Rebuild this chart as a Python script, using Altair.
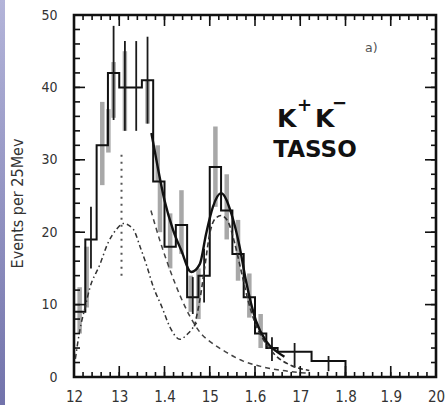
import altair as alt
import pandas as pd

# ---------------- data ----------------
# histogram (events per 25 MeV); left edges of bins, last two bins are wide
bin_left = [1.200, 1.225, 1.250, 1.275, 1.300, 1.325, 1.350, 1.375, 1.400, 1.425,
            1.450, 1.475, 1.500, 1.525, 1.550, 1.575, 1.600, 1.625, 1.650, 1.725]
bin_value = [9, 19, 32, 42, 40, 40, 41, 27, 18, 21,
             11, 14, 29, 23, 17, 11, 6, 4, 3.5, 2.2]
hist_end = 1.8

# black error bars
eb_black_x = [1.2375, 1.2875, 1.3125, 1.3375, 1.3625, 1.4625, 1.4875, 1.6375, 1.6875, 1.7625]
eb_black_lo = [15.0, 35.5, 34.0, 34.0, 35.0, 8.7, 10.3, 2.2, 1.3, 0.8]
eb_black_hi = [23.5, 48.5, 46.4, 46.4, 47.0, 13.8, 17.7, 5.5, 4.7, 2.9]

# grey (second copy) error bars
eb_grey_x = [1.2125, 1.2280, 1.2625, 1.2760, 1.2875, 1.3125, 1.3625, 1.3850, 1.3900,
             1.4125, 1.4375, 1.4580, 1.4750, 1.5125, 1.5375, 1.5625, 1.5875, 1.6125]
eb_grey_lo = [6.0, 9.6, 26.5, 31.0, 35.8, 34.0, 35.0, 27.0, 20.0,
              15.0, 17.0, 9.0, 8.0, 23.5, 19.0, 13.3, 8.2, 4.0]
eb_grey_hi = [12.4, 18.0, 38.0, 37.0, 43.5, 45.0, 41.0, 32.0, 27.0,
              22.6, 25.8, 14.0, 15.0, 34.6, 28.0, 21.7, 14.3, 8.7]

# total fit (solid)
total_x = [1.371, 1.385, 1.400, 1.419, 1.437, 1.459, 1.478, 1.492, 1.507, 1.525,
           1.550, 1.566, 1.580, 1.602, 1.624, 1.646, 1.665]
total_y = [33.7, 29.0, 24.4, 20.3, 17.5, 14.5, 15.6, 19.8, 23.5, 25.4,
           22.1, 18.0, 13.3, 7.8, 5.0, 3.6, 2.8]

# f2(1270) component (dash-dot)
f2_x = [1.203, 1.213, 1.224, 1.235, 1.257, 1.275, 1.294, 1.309, 1.331, 1.346,
        1.360, 1.375, 1.394, 1.412, 1.434, 1.452, 1.471]
f2_y = [2.5, 6.5, 9.5, 12.3, 15.5, 18.5, 20.4, 21.2, 20.4, 18.0,
        15.5, 12.5, 9.7, 6.9, 5.2, 6.0, 7.5]

# f2'(1525) component (dashed)
f2p_x = [1.466, 1.478, 1.489, 1.500, 1.511, 1.525, 1.540, 1.555, 1.570, 1.585,
         1.600, 1.620, 1.645, 1.680, 1.720]
f2p_y = [7.0, 10.6, 15.2, 19.8, 21.8, 22.3, 21.5, 18.5, 14.5, 10.5,
         7.5, 5.0, 3.0, 1.6, 0.9]

# falling background / tail (dashed)
bg_x = [1.370, 1.390, 1.412, 1.434, 1.456, 1.478, 1.507, 1.537, 1.574, 1.610, 1.660, 1.720]
bg_y = [23.0, 18.8, 14.8, 11.3, 8.4, 6.2, 4.6, 3.4, 2.2, 1.5, 0.9, 0.5]

# dotted marker line
marker_x = [1.305]
marker_lo = [14.0]
marker_hi = [31.0]

# axes
x_major = [1.2, 1.3, 1.4, 1.5, 1.6, 1.7, 1.8, 1.9, 2.0]
x_tick_labels = ["12", "13", "1.4", "15", "1.6", "17", "1.8", "1.9", "20"]
x_minor = [round(1.2 + 0.02 * k, 2) for k in range(41)]
y_major = [0, 10, 20, 30, 40, 50]
y_minor = list(range(0, 51, 2))
y_title = "Events per 25Mev"

# ---------------- chart ----------------
W, H = 362, 362
xs = alt.Scale(domain=[1.2, 2.0], nice=False, zero=False)
ys = alt.Scale(domain=[0, 50], nice=False)

label_arr = "[" + ",".join("'" + s + "'" for s in x_tick_labels) + "]"

hist_df = pd.DataFrame({"x": bin_left + [hist_end], "y": bin_value + [0]})
base_x = alt.X("x:Q", scale=xs,
               axis=alt.Axis(values=x_major, ticks=False, domain=False, grid=False,
                             labelExpr=label_arr + "[round(datum.value*10)-12]",
                             labelFontSize=15, labelColor="#333", labelPadding=12,
                             labelFont="DejaVu Sans Condensed, DejaVu Sans", title=None,
                             labelFlush=False))
base_y = alt.Y("y:Q", scale=ys,
               axis=alt.Axis(values=y_major, ticks=False, domain=False, grid=False,
                             labelFontSize=14, labelColor="#333", labelPadding=17,
                             labelFont="DejaVu Sans Condensed, DejaVu Sans",
                             title=y_title, titleFontSize=16, titleFontWeight="normal",
                             titleColor="#333", titleFont="DejaVu Sans Condensed, DejaVu Sans",
                             titleAngle=-90, titleX=-57, titleY=188,
                             titleAlign="center", titleBaseline="middle"))

hist = alt.Chart(hist_df).mark_line(interpolate="step-after", color="#111",
                                    strokeWidth=2).encode(x=base_x, y=base_y)

grey_df = pd.DataFrame({"x": eb_grey_x, "lo": eb_grey_lo, "hi": eb_grey_hi})
grey_eb = alt.Chart(grey_df).mark_rule(color="#a8a8a8", strokeWidth=4.5).encode(
    x=alt.X("x:Q", scale=xs), y=alt.Y("lo:Q", scale=ys), y2="hi:Q")

black_df = pd.DataFrame({"x": eb_black_x, "lo": eb_black_lo, "hi": eb_black_hi})
black_eb = alt.Chart(black_df).mark_rule(color="#1a1a1a", strokeWidth=1.8).encode(
    x=alt.X("x:Q", scale=xs), y=alt.Y("lo:Q", scale=ys), y2="hi:Q")


def curve(xv, yv, dash, width, color="#111"):
    df = pd.DataFrame({"x": xv, "y": yv})
    kw = dict(color=color, strokeWidth=width, interpolate="monotone")
    if dash:
        kw["strokeDash"] = dash
    return alt.Chart(df).mark_line(**kw).encode(
        x=alt.X("x:Q", scale=xs), y=alt.Y("y:Q", scale=ys))


total = curve(total_x, total_y, None, 2.4)
f2 = curve(f2_x, f2_y, [5, 3, 1.5, 3], 1.5, "#333")
f2p = curve(f2p_x, f2p_y, [5, 3], 1.6, "#333")
bg = curve(bg_x, bg_y, [5, 4], 1.5, "#444")

marker_df = pd.DataFrame({"x": marker_x, "lo": marker_lo, "hi": marker_hi})
marker = alt.Chart(marker_df).mark_rule(color="#555", strokeWidth=2, strokeDash=[2, 5]).encode(
    x=alt.X("x:Q", scale=xs), y=alt.Y("lo:Q", scale=ys), y2="hi:Q")

# inward ticks on all four sides
def xticks(vals, length, top):
    df = pd.DataFrame({"x": vals})
    if top:
        enc = dict(y=alt.value(0), y2=alt.value(length))
    else:
        enc = dict(y=alt.value(H), y2=alt.value(H - length))
    return alt.Chart(df).mark_rule(color="#111", strokeWidth=1.6).encode(
        x=alt.X("x:Q", scale=xs), **enc)


def yticks(vals, length, right):
    df = pd.DataFrame({"y": vals})
    if right:
        enc = dict(x=alt.value(W), x2=alt.value(W - length))
    else:
        enc = dict(x=alt.value(0), x2=alt.value(length))
    return alt.Chart(df).mark_rule(color="#111", strokeWidth=1.6).encode(
        y=alt.Y("y:Q", scale=ys), **enc)


ticks = [xticks(x_minor, 5, False), xticks(x_major, 11, False),
         xticks(x_minor, 5, True), xticks(x_major, 11, True),
         yticks(y_minor, 6, False), yticks(y_major, 11, False),
         yticks(y_minor, 5, True), yticks(y_major, 11, True)]

# annotation texts
def label(txt, px, py, size, weight="normal", color="#111", align="left"):
    return alt.Chart(pd.DataFrame({"t": [txt]})).mark_text(
        align=align, baseline="alphabetic", fontSize=size, fontWeight=weight,
        color=color, font="DejaVu Sans").encode(
        x=alt.value(px), y=alt.value(py), text="t:N")

texts = [label("a)", 291, 37, 12.5, color="#555"),
         label("K", 203, 112, 25, "bold"),
         label("+", 223, 96, 18, "bold"),
         label("K", 241, 112, 25, "bold"),
         label("\u2212", 258, 94, 18, "bold"),
         label("TASSO", 241, 142, 23, "bold", align="center")]

# decorative slide strip at left edge
strip = alt.Chart(pd.DataFrame({"a": [0]})).mark_rect(
    color=alt.Gradient(gradient="linear",
                       stops=[alt.GradientStop(color="#b3b4d9", offset=0),
                              alt.GradientStop(color="#7273ab", offset=1)],
                       x1=0, x2=0, y1=0, y2=1), clip=False).encode(
    x=alt.value(-74), x2=alt.value(-69), y=alt.value(-15), y2=alt.value(H + 28))

chart = alt.layer(strip, grey_eb, hist, black_eb, f2, f2p, bg, total, marker,
                  *ticks, *texts).properties(
    width=W, height=H,
    padding={"left": 74, "top": 15, "right": 10, "bottom": 28},
    autosize=alt.AutoSizeParams(type="none"),
    background="white",
).configure_view(stroke="#111", strokeWidth=2.6)

chart.save("out.html", embed_options={"renderer": "svg", "actions": False})
